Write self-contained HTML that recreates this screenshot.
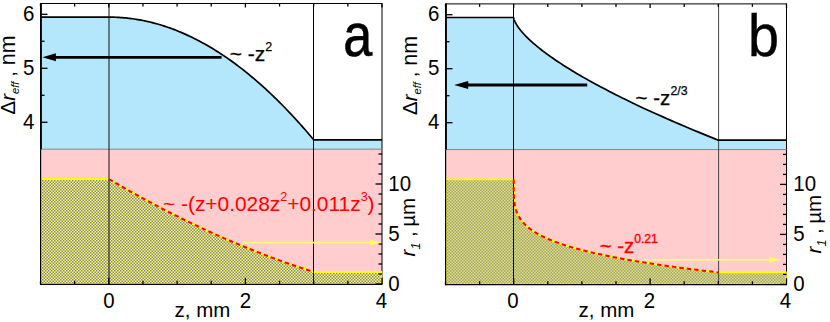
<!DOCTYPE html>
<html><head><meta charset="utf-8"><style>
html,body{margin:0;padding:0;background:#fff}
svg{display:block}
text{font-family:"Liberation Sans",sans-serif}
</style></head><body>
<svg width="830" height="322" viewBox="0 0 830 322">
<defs><pattern id="hatch" width="3" height="3" patternUnits="userSpaceOnUse">
<rect width="3" height="3" fill="#fcfc69"/><rect x="0" y="0" width="1.5" height="1.5" fill="#868688"/><rect x="1.5" y="1.5" width="1.5" height="1.5" fill="#868688"/>
</pattern></defs>
<rect width="830" height="322" fill="#fff"/>
<g transform="translate(0,0.00)"><rect x="40.50" y="149.20" width="341.50" height="135.10" fill="#ffcdcd"/>
<polygon points="40.50,17.11 108.80,17.11 110.51,17.12 112.22,17.14 113.92,17.18 115.63,17.24 117.34,17.32 119.04,17.41 120.75,17.53 122.46,17.65 124.17,17.80 125.88,17.96 127.58,18.14 129.29,18.33 131.00,18.55 132.70,18.78 134.41,19.02 136.12,19.29 137.83,19.57 139.53,19.87 141.24,20.18 142.95,20.52 144.66,20.87 146.37,21.23 148.07,21.62 149.78,22.02 151.49,22.43 153.19,22.87 154.90,23.32 156.61,23.79 158.32,24.27 160.02,24.78 161.73,25.30 163.44,25.83 165.15,26.39 166.86,26.96 168.56,27.54 170.27,28.15 171.98,28.77 173.69,29.41 175.39,30.07 177.10,30.74 178.81,31.43 180.51,32.14 182.22,32.86 183.93,33.60 185.64,34.36 187.34,35.14 189.05,35.93 190.76,36.74 192.47,37.56 194.17,38.41 195.88,39.27 197.59,40.15 199.30,41.04 201.00,41.95 202.71,42.88 204.42,43.83 206.13,44.79 207.84,45.77 209.54,46.77 211.25,47.78 212.96,48.81 214.66,49.86 216.37,50.92 218.08,52.01 219.79,53.10 221.49,54.22 223.20,55.35 224.91,56.50 226.62,57.67 228.32,58.86 230.03,60.06 231.74,61.28 233.45,62.51 235.16,63.76 236.86,65.03 238.57,66.32 240.28,67.62 241.99,68.94 243.69,70.28 245.40,71.64 247.11,73.01 248.81,74.40 250.52,75.80 252.23,77.23 253.94,78.66 255.64,80.12 257.35,81.60 259.06,83.09 260.77,84.59 262.48,86.12 264.18,87.66 265.89,89.22 267.60,90.80 269.31,92.39 271.01,94.00 272.72,95.63 274.43,97.27 276.13,98.93 277.84,100.61 279.55,102.31 281.26,104.02 282.96,105.75 284.67,107.50 286.38,109.26 288.09,111.04 289.79,112.84 291.50,114.65 293.21,116.49 294.92,118.33 296.62,120.20 298.33,122.08 300.04,123.98 301.75,125.90 303.45,127.83 305.16,129.78 306.87,131.75 308.58,133.74 310.29,135.74 311.99,137.76 313.70,139.80 382.00,139.80 382.00,149.20 40.50,149.20" fill="#b4e6fc"/>
<clipPath id="ca"><rect x="40.50" y="149.20" width="341.80" height="135.10"/></clipPath>
<line x1="382.00" y1="3.00" x2="382.00" y2="284.80" stroke="#000" stroke-width="1"/>
<polygon clip-path="url(#ca)" points="40.50,179.00 108.80,179.00 110.51,180.01 112.22,181.01 113.92,182.01 115.63,183.00 117.34,183.99 119.04,184.98 120.75,185.96 122.46,186.94 124.17,187.92 125.88,188.89 127.58,189.86 129.29,190.82 131.00,191.78 132.70,192.73 134.41,193.69 136.12,194.63 137.83,195.58 139.53,196.52 141.24,197.46 142.95,198.39 144.66,199.32 146.37,200.24 148.07,201.16 149.78,202.08 151.49,202.99 153.19,203.90 154.90,204.81 156.61,205.71 158.32,206.60 160.02,207.50 161.73,208.39 163.44,209.27 165.15,210.16 166.86,211.03 168.56,211.91 170.27,212.78 171.98,213.64 173.69,214.51 175.39,215.37 177.10,216.22 178.81,217.07 180.51,217.92 182.22,218.76 183.93,219.60 185.64,220.44 187.34,221.27 189.05,222.09 190.76,222.92 192.47,223.74 194.17,224.55 195.88,225.37 197.59,226.17 199.30,226.98 201.00,227.78 202.71,228.57 204.42,229.37 206.13,230.16 207.84,230.94 209.54,231.72 211.25,232.50 212.96,233.27 214.66,234.04 216.37,234.81 218.08,235.57 219.79,236.32 221.49,237.08 223.20,237.83 224.91,238.57 226.62,239.32 228.32,240.05 230.03,240.79 231.74,241.52 233.45,242.24 235.16,242.97 236.86,243.69 238.57,244.40 240.28,245.11 241.99,245.82 243.69,246.52 245.40,247.22 247.11,247.92 248.81,248.61 250.52,249.29 252.23,249.98 253.94,250.66 255.64,251.33 257.35,252.01 259.06,252.67 260.77,253.34 262.48,254.00 264.18,254.65 265.89,255.31 267.60,255.96 269.31,256.60 271.01,257.24 272.72,257.88 274.43,258.51 276.13,259.14 277.84,259.77 279.55,260.39 281.26,261.01 282.96,261.62 284.67,262.23 286.38,262.83 288.09,263.44 289.79,264.03 291.50,264.63 293.21,265.22 294.92,265.81 296.62,266.39 298.33,266.97 300.04,267.54 301.75,268.11 303.45,268.68 305.16,269.24 306.87,269.80 308.58,270.36 310.29,270.91 311.99,271.46 313.70,272.00 381.70,272.00 381.70,284.30 40.50,284.30" fill="url(#hatch)" stroke="#ffff00" stroke-width="1.9" stroke-linejoin="round"/>
<line x1="40.50" y1="149.20" x2="382.00" y2="149.20" stroke="#8a7f86" stroke-width="1"/>
<line x1="109.00" y1="3.50" x2="109.00" y2="284.30" stroke="#111" stroke-width="1"/>
<line x1="313.50" y1="3.50" x2="313.50" y2="284.30" stroke="#000" stroke-width="1"/>
<polyline points="108.80,179.00 110.51,180.01 112.22,181.01 113.92,182.01 115.63,183.00 117.34,183.99 119.04,184.98 120.75,185.96 122.46,186.94 124.17,187.92 125.88,188.89 127.58,189.86 129.29,190.82 131.00,191.78 132.70,192.73 134.41,193.69 136.12,194.63 137.83,195.58 139.53,196.52 141.24,197.46 142.95,198.39 144.66,199.32 146.37,200.24 148.07,201.16 149.78,202.08 151.49,202.99 153.19,203.90 154.90,204.81 156.61,205.71 158.32,206.60 160.02,207.50 161.73,208.39 163.44,209.27 165.15,210.16 166.86,211.03 168.56,211.91 170.27,212.78 171.98,213.64 173.69,214.51 175.39,215.37 177.10,216.22 178.81,217.07 180.51,217.92 182.22,218.76 183.93,219.60 185.64,220.44 187.34,221.27 189.05,222.09 190.76,222.92 192.47,223.74 194.17,224.55 195.88,225.37 197.59,226.17 199.30,226.98 201.00,227.78 202.71,228.57 204.42,229.37 206.13,230.16 207.84,230.94 209.54,231.72 211.25,232.50 212.96,233.27 214.66,234.04 216.37,234.81 218.08,235.57 219.79,236.32 221.49,237.08 223.20,237.83 224.91,238.57 226.62,239.32 228.32,240.05 230.03,240.79 231.74,241.52 233.45,242.24 235.16,242.97 236.86,243.69 238.57,244.40 240.28,245.11 241.99,245.82 243.69,246.52 245.40,247.22 247.11,247.92 248.81,248.61 250.52,249.29 252.23,249.98 253.94,250.66 255.64,251.33 257.35,252.01 259.06,252.67 260.77,253.34 262.48,254.00 264.18,254.65 265.89,255.31 267.60,255.96 269.31,256.60 271.01,257.24 272.72,257.88 274.43,258.51 276.13,259.14 277.84,259.77 279.55,260.39 281.26,261.01 282.96,261.62 284.67,262.23 286.38,262.83 288.09,263.44 289.79,264.03 291.50,264.63 293.21,265.22 294.92,265.81 296.62,266.39 298.33,266.97 300.04,267.54 301.75,268.11 303.45,268.68 305.16,269.24 306.87,269.80 308.58,270.36 310.29,270.91 311.99,271.46 313.70,272.00" fill="none" stroke="#ff0000" stroke-width="2" stroke-dasharray="4.5 3"/>
<polyline points="40.50,17.11 108.80,17.11 110.51,17.12 112.22,17.14 113.92,17.18 115.63,17.24 117.34,17.32 119.04,17.41 120.75,17.53 122.46,17.65 124.17,17.80 125.88,17.96 127.58,18.14 129.29,18.33 131.00,18.55 132.70,18.78 134.41,19.02 136.12,19.29 137.83,19.57 139.53,19.87 141.24,20.18 142.95,20.52 144.66,20.87 146.37,21.23 148.07,21.62 149.78,22.02 151.49,22.43 153.19,22.87 154.90,23.32 156.61,23.79 158.32,24.27 160.02,24.78 161.73,25.30 163.44,25.83 165.15,26.39 166.86,26.96 168.56,27.54 170.27,28.15 171.98,28.77 173.69,29.41 175.39,30.07 177.10,30.74 178.81,31.43 180.51,32.14 182.22,32.86 183.93,33.60 185.64,34.36 187.34,35.14 189.05,35.93 190.76,36.74 192.47,37.56 194.17,38.41 195.88,39.27 197.59,40.15 199.30,41.04 201.00,41.95 202.71,42.88 204.42,43.83 206.13,44.79 207.84,45.77 209.54,46.77 211.25,47.78 212.96,48.81 214.66,49.86 216.37,50.92 218.08,52.01 219.79,53.10 221.49,54.22 223.20,55.35 224.91,56.50 226.62,57.67 228.32,58.86 230.03,60.06 231.74,61.28 233.45,62.51 235.16,63.76 236.86,65.03 238.57,66.32 240.28,67.62 241.99,68.94 243.69,70.28 245.40,71.64 247.11,73.01 248.81,74.40 250.52,75.80 252.23,77.23 253.94,78.66 255.64,80.12 257.35,81.60 259.06,83.09 260.77,84.59 262.48,86.12 264.18,87.66 265.89,89.22 267.60,90.80 269.31,92.39 271.01,94.00 272.72,95.63 274.43,97.27 276.13,98.93 277.84,100.61 279.55,102.31 281.26,104.02 282.96,105.75 284.67,107.50 286.38,109.26 288.09,111.04 289.79,112.84 291.50,114.65 293.21,116.49 294.92,118.33 296.62,120.20 298.33,122.08 300.04,123.98 301.75,125.90 303.45,127.83 305.16,129.78 306.87,131.75 308.58,133.74 310.29,135.74 311.99,137.76 313.70,139.80 382.00,139.80" fill="none" stroke="#000" stroke-width="1.7" stroke-linejoin="round"/>
<line x1="40.50" y1="14.30" x2="47.50" y2="14.30" stroke="#000" stroke-width="1.3"/>
<line x1="40.50" y1="41.30" x2="44.50" y2="41.30" stroke="#000" stroke-width="1.3"/>
<line x1="40.50" y1="68.30" x2="47.50" y2="68.30" stroke="#000" stroke-width="1.3"/>
<line x1="40.50" y1="95.30" x2="44.50" y2="95.30" stroke="#000" stroke-width="1.3"/>
<line x1="40.50" y1="122.30" x2="47.50" y2="122.30" stroke="#000" stroke-width="1.3"/>
<line x1="375.50" y1="284.00" x2="382.00" y2="284.00" stroke="#000" stroke-width="1.3"/>
<line x1="378.50" y1="274.00" x2="382.00" y2="274.00" stroke="#000" stroke-width="1.3"/>
<line x1="378.50" y1="264.00" x2="382.00" y2="264.00" stroke="#000" stroke-width="1.3"/>
<line x1="378.50" y1="254.00" x2="382.00" y2="254.00" stroke="#000" stroke-width="1.3"/>
<line x1="378.50" y1="244.00" x2="382.00" y2="244.00" stroke="#000" stroke-width="1.3"/>
<line x1="375.50" y1="234.00" x2="382.00" y2="234.00" stroke="#000" stroke-width="1.3"/>
<line x1="378.50" y1="224.00" x2="382.00" y2="224.00" stroke="#000" stroke-width="1.3"/>
<line x1="378.50" y1="214.00" x2="382.00" y2="214.00" stroke="#000" stroke-width="1.3"/>
<line x1="378.50" y1="204.00" x2="382.00" y2="204.00" stroke="#000" stroke-width="1.3"/>
<line x1="378.50" y1="194.00" x2="382.00" y2="194.00" stroke="#000" stroke-width="1.3"/>
<line x1="375.50" y1="184.00" x2="382.00" y2="184.00" stroke="#000" stroke-width="1.3"/>
<line x1="378.50" y1="174.00" x2="382.00" y2="174.00" stroke="#000" stroke-width="1.3"/>
<line x1="378.50" y1="164.00" x2="382.00" y2="164.00" stroke="#000" stroke-width="1.3"/>
<line x1="378.50" y1="154.00" x2="382.00" y2="154.00" stroke="#000" stroke-width="1.3"/>
<line x1="40.50" y1="280.80" x2="40.50" y2="284.30" stroke="#000" stroke-width="1.3"/>
<line x1="40.50" y1="3.50" x2="40.50" y2="6.50" stroke="#000" stroke-width="1.3"/>
<line x1="74.65" y1="280.80" x2="74.65" y2="284.30" stroke="#000" stroke-width="1.3"/>
<line x1="74.65" y1="3.50" x2="74.65" y2="6.50" stroke="#000" stroke-width="1.3"/>
<line x1="108.80" y1="277.80" x2="108.80" y2="284.30" stroke="#000" stroke-width="1.3"/>
<line x1="108.80" y1="3.50" x2="108.80" y2="7.50" stroke="#000" stroke-width="1.3"/>
<line x1="142.95" y1="280.80" x2="142.95" y2="284.30" stroke="#000" stroke-width="1.3"/>
<line x1="142.95" y1="3.50" x2="142.95" y2="6.50" stroke="#000" stroke-width="1.3"/>
<line x1="177.10" y1="280.80" x2="177.10" y2="284.30" stroke="#000" stroke-width="1.3"/>
<line x1="177.10" y1="3.50" x2="177.10" y2="6.50" stroke="#000" stroke-width="1.3"/>
<line x1="211.25" y1="280.80" x2="211.25" y2="284.30" stroke="#000" stroke-width="1.3"/>
<line x1="211.25" y1="3.50" x2="211.25" y2="6.50" stroke="#000" stroke-width="1.3"/>
<line x1="245.40" y1="277.80" x2="245.40" y2="284.30" stroke="#000" stroke-width="1.3"/>
<line x1="245.40" y1="3.50" x2="245.40" y2="7.50" stroke="#000" stroke-width="1.3"/>
<line x1="279.55" y1="280.80" x2="279.55" y2="284.30" stroke="#000" stroke-width="1.3"/>
<line x1="279.55" y1="3.50" x2="279.55" y2="6.50" stroke="#000" stroke-width="1.3"/>
<line x1="313.70" y1="280.80" x2="313.70" y2="284.30" stroke="#000" stroke-width="1.3"/>
<line x1="313.70" y1="3.50" x2="313.70" y2="6.50" stroke="#000" stroke-width="1.3"/>
<line x1="347.85" y1="280.80" x2="347.85" y2="284.30" stroke="#000" stroke-width="1.3"/>
<line x1="347.85" y1="3.50" x2="347.85" y2="6.50" stroke="#000" stroke-width="1.3"/>
<line x1="382.00" y1="277.80" x2="382.00" y2="284.30" stroke="#000" stroke-width="1.3"/>
<line x1="382.00" y1="3.50" x2="382.00" y2="7.50" stroke="#000" stroke-width="1.3"/>
<line x1="40.50" y1="3.50" x2="382.00" y2="3.50" stroke="#000" stroke-width="1"/>
<line x1="40.50" y1="284.30" x2="382.00" y2="284.30" stroke="#000" stroke-width="1.2"/>
<rect x="40.00" y="3.00" width="1.9" height="146.20" fill="#000"/>
<rect x="40.00" y="149.20" width="1.2" height="135.70" fill="#000"/></g>
<g transform="translate(0,0.40)"><rect x="445.50" y="149.20" width="341.00" height="135.10" fill="#ffcdcd"/>
<polygon points="445.50,17.11 513.70,17.11 513.70,17.12 513.70,17.14 513.70,17.18 513.71,17.24 513.71,17.32 513.73,17.41 513.74,17.53 513.76,17.65 513.79,17.80 513.82,17.96 513.86,18.14 513.90,18.33 513.96,18.55 514.02,18.78 514.10,19.02 514.18,19.29 514.28,19.57 514.39,19.87 514.51,20.18 514.65,20.52 514.80,20.87 514.96,21.23 515.14,21.62 515.34,22.02 515.55,22.43 515.78,22.87 516.03,23.32 516.30,23.79 516.59,24.27 516.90,24.78 517.23,25.30 517.58,25.83 517.96,26.39 518.35,26.96 518.78,27.54 519.22,28.15 519.70,28.77 520.20,29.41 520.72,30.07 521.28,30.74 521.86,31.43 522.47,32.14 523.11,32.86 523.79,33.60 524.49,34.36 525.22,35.14 525.99,35.93 526.79,36.74 527.63,37.56 528.50,38.41 529.41,39.27 530.35,40.15 531.33,41.04 532.34,41.95 533.40,42.88 534.49,43.83 535.63,44.79 536.80,45.77 538.02,46.77 539.27,47.78 540.58,48.81 541.92,49.86 543.31,50.92 544.74,52.01 546.22,53.10 547.74,54.22 549.31,55.35 550.93,56.50 552.60,57.67 554.31,58.86 556.08,60.06 557.89,61.28 559.76,62.51 561.68,63.76 563.65,65.03 565.68,66.32 567.75,67.62 569.89,68.94 572.08,70.28 574.32,71.64 576.62,73.01 578.98,74.40 581.40,75.80 583.88,77.23 586.41,78.66 589.01,80.12 591.67,81.60 594.39,83.09 597.17,84.59 600.02,86.12 602.92,87.66 605.90,89.22 608.94,90.80 612.04,92.39 615.22,94.00 618.46,95.63 621.76,97.27 625.14,98.93 628.59,100.61 632.10,102.31 635.69,104.02 639.35,105.75 643.08,107.50 646.89,109.26 650.77,111.04 654.72,112.84 658.75,114.65 662.85,116.49 667.04,118.33 671.29,120.20 675.63,122.08 680.05,123.98 684.54,125.90 689.12,127.83 693.78,129.78 698.51,131.75 703.34,133.74 708.24,135.74 713.23,137.76 718.30,139.80 786.50,139.80 786.50,149.20 445.50,149.20" fill="#b4e6fc"/>
<clipPath id="cb"><rect x="445.50" y="149.20" width="341.30" height="135.10"/></clipPath>
<line x1="786.50" y1="3.00" x2="786.50" y2="284.80" stroke="#000" stroke-width="1"/>
<polygon clip-path="url(#cb)" points="445.50,179.00 513.70,179.00 513.70,181.57 513.70,183.31 513.70,184.85 513.71,186.26 513.71,187.58 513.73,188.83 513.74,190.04 513.76,191.20 513.79,192.33 513.82,193.42 513.86,194.49 513.90,195.54 513.96,196.56 514.02,197.56 514.10,198.55 514.18,199.52 514.28,200.48 514.39,201.42 514.51,202.34 514.65,203.26 514.80,204.16 514.96,205.06 515.14,205.94 515.34,206.81 515.55,207.68 515.78,208.53 516.03,209.38 516.30,210.22 516.59,211.05 516.90,211.88 517.23,212.70 517.58,213.51 517.96,214.32 518.35,215.12 518.78,215.91 519.22,216.70 519.70,217.48 520.20,218.26 520.72,219.03 521.28,219.80 521.86,220.56 522.47,221.32 523.11,222.07 523.79,222.82 524.49,223.57 525.22,224.31 525.99,225.04 526.79,225.78 527.63,226.51 528.50,227.23 529.41,227.95 530.35,228.67 531.33,229.39 532.34,230.10 533.40,230.80 534.49,231.51 535.63,232.21 536.80,232.91 538.02,233.61 539.27,234.30 540.58,234.99 541.92,235.67 543.31,236.36 544.74,237.04 546.22,237.72 547.74,238.40 549.31,239.07 550.93,239.74 552.60,240.41 554.31,241.08 556.08,241.74 557.89,242.40 559.76,243.06 561.68,243.72 563.65,244.37 565.68,245.02 567.75,245.68 569.89,246.32 572.08,246.97 574.32,247.61 576.62,248.26 578.98,248.90 581.40,249.54 583.88,250.17 586.41,250.81 589.01,251.44 591.67,252.07 594.39,252.70 597.17,253.33 600.02,253.95 602.92,254.57 605.90,255.20 608.94,255.82 612.04,256.44 615.22,257.05 618.46,257.67 621.76,258.28 625.14,258.89 628.59,259.51 632.10,260.11 635.69,260.72 639.35,261.33 643.08,261.93 646.89,262.54 650.77,263.14 654.72,263.74 658.75,264.34 662.85,264.93 667.04,265.53 671.29,266.12 675.63,266.72 680.05,267.31 684.54,267.90 689.12,268.49 693.78,269.08 698.51,269.67 703.34,270.25 708.24,270.84 713.23,271.42 718.30,272.00 786.20,272.00 786.20,284.30 445.50,284.30" fill="url(#hatch)" stroke="#ffff00" stroke-width="1.9" stroke-linejoin="round"/>
<line x1="445.50" y1="149.20" x2="786.50" y2="149.20" stroke="#8a7f86" stroke-width="1"/>
<line x1="513.50" y1="3.50" x2="513.50" y2="284.30" stroke="#000" stroke-width="1"/>
<line x1="718.60" y1="3.50" x2="718.60" y2="284.30" stroke="#444" stroke-width="1"/>
<polyline points="513.70,179.00 513.70,181.57 513.70,183.31 513.70,184.85 513.71,186.26 513.71,187.58 513.73,188.83 513.74,190.04 513.76,191.20 513.79,192.33 513.82,193.42 513.86,194.49 513.90,195.54 513.96,196.56 514.02,197.56 514.10,198.55 514.18,199.52 514.28,200.48 514.39,201.42 514.51,202.34 514.65,203.26 514.80,204.16 514.96,205.06 515.14,205.94 515.34,206.81 515.55,207.68 515.78,208.53 516.03,209.38 516.30,210.22 516.59,211.05 516.90,211.88 517.23,212.70 517.58,213.51 517.96,214.32 518.35,215.12 518.78,215.91 519.22,216.70 519.70,217.48 520.20,218.26 520.72,219.03 521.28,219.80 521.86,220.56 522.47,221.32 523.11,222.07 523.79,222.82 524.49,223.57 525.22,224.31 525.99,225.04 526.79,225.78 527.63,226.51 528.50,227.23 529.41,227.95 530.35,228.67 531.33,229.39 532.34,230.10 533.40,230.80 534.49,231.51 535.63,232.21 536.80,232.91 538.02,233.61 539.27,234.30 540.58,234.99 541.92,235.67 543.31,236.36 544.74,237.04 546.22,237.72 547.74,238.40 549.31,239.07 550.93,239.74 552.60,240.41 554.31,241.08 556.08,241.74 557.89,242.40 559.76,243.06 561.68,243.72 563.65,244.37 565.68,245.02 567.75,245.68 569.89,246.32 572.08,246.97 574.32,247.61 576.62,248.26 578.98,248.90 581.40,249.54 583.88,250.17 586.41,250.81 589.01,251.44 591.67,252.07 594.39,252.70 597.17,253.33 600.02,253.95 602.92,254.57 605.90,255.20 608.94,255.82 612.04,256.44 615.22,257.05 618.46,257.67 621.76,258.28 625.14,258.89 628.59,259.51 632.10,260.11 635.69,260.72 639.35,261.33 643.08,261.93 646.89,262.54 650.77,263.14 654.72,263.74 658.75,264.34 662.85,264.93 667.04,265.53 671.29,266.12 675.63,266.72 680.05,267.31 684.54,267.90 689.12,268.49 693.78,269.08 698.51,269.67 703.34,270.25 708.24,270.84 713.23,271.42 718.30,272.00" fill="none" stroke="#ff0000" stroke-width="2" stroke-dasharray="4.5 3"/>
<polyline points="445.50,17.11 513.70,17.11 513.70,17.12 513.70,17.14 513.70,17.18 513.71,17.24 513.71,17.32 513.73,17.41 513.74,17.53 513.76,17.65 513.79,17.80 513.82,17.96 513.86,18.14 513.90,18.33 513.96,18.55 514.02,18.78 514.10,19.02 514.18,19.29 514.28,19.57 514.39,19.87 514.51,20.18 514.65,20.52 514.80,20.87 514.96,21.23 515.14,21.62 515.34,22.02 515.55,22.43 515.78,22.87 516.03,23.32 516.30,23.79 516.59,24.27 516.90,24.78 517.23,25.30 517.58,25.83 517.96,26.39 518.35,26.96 518.78,27.54 519.22,28.15 519.70,28.77 520.20,29.41 520.72,30.07 521.28,30.74 521.86,31.43 522.47,32.14 523.11,32.86 523.79,33.60 524.49,34.36 525.22,35.14 525.99,35.93 526.79,36.74 527.63,37.56 528.50,38.41 529.41,39.27 530.35,40.15 531.33,41.04 532.34,41.95 533.40,42.88 534.49,43.83 535.63,44.79 536.80,45.77 538.02,46.77 539.27,47.78 540.58,48.81 541.92,49.86 543.31,50.92 544.74,52.01 546.22,53.10 547.74,54.22 549.31,55.35 550.93,56.50 552.60,57.67 554.31,58.86 556.08,60.06 557.89,61.28 559.76,62.51 561.68,63.76 563.65,65.03 565.68,66.32 567.75,67.62 569.89,68.94 572.08,70.28 574.32,71.64 576.62,73.01 578.98,74.40 581.40,75.80 583.88,77.23 586.41,78.66 589.01,80.12 591.67,81.60 594.39,83.09 597.17,84.59 600.02,86.12 602.92,87.66 605.90,89.22 608.94,90.80 612.04,92.39 615.22,94.00 618.46,95.63 621.76,97.27 625.14,98.93 628.59,100.61 632.10,102.31 635.69,104.02 639.35,105.75 643.08,107.50 646.89,109.26 650.77,111.04 654.72,112.84 658.75,114.65 662.85,116.49 667.04,118.33 671.29,120.20 675.63,122.08 680.05,123.98 684.54,125.90 689.12,127.83 693.78,129.78 698.51,131.75 703.34,133.74 708.24,135.74 713.23,137.76 718.30,139.80 786.50,139.80" fill="none" stroke="#000" stroke-width="1.7" stroke-linejoin="round"/>
<line x1="445.50" y1="14.30" x2="452.50" y2="14.30" stroke="#000" stroke-width="1.3"/>
<line x1="445.50" y1="41.30" x2="449.50" y2="41.30" stroke="#000" stroke-width="1.3"/>
<line x1="445.50" y1="68.30" x2="452.50" y2="68.30" stroke="#000" stroke-width="1.3"/>
<line x1="445.50" y1="95.30" x2="449.50" y2="95.30" stroke="#000" stroke-width="1.3"/>
<line x1="445.50" y1="122.30" x2="452.50" y2="122.30" stroke="#000" stroke-width="1.3"/>
<line x1="780.00" y1="284.00" x2="786.50" y2="284.00" stroke="#000" stroke-width="1.3"/>
<line x1="783.00" y1="274.00" x2="786.50" y2="274.00" stroke="#000" stroke-width="1.3"/>
<line x1="783.00" y1="264.00" x2="786.50" y2="264.00" stroke="#000" stroke-width="1.3"/>
<line x1="783.00" y1="254.00" x2="786.50" y2="254.00" stroke="#000" stroke-width="1.3"/>
<line x1="783.00" y1="244.00" x2="786.50" y2="244.00" stroke="#000" stroke-width="1.3"/>
<line x1="780.00" y1="234.00" x2="786.50" y2="234.00" stroke="#000" stroke-width="1.3"/>
<line x1="783.00" y1="224.00" x2="786.50" y2="224.00" stroke="#000" stroke-width="1.3"/>
<line x1="783.00" y1="214.00" x2="786.50" y2="214.00" stroke="#000" stroke-width="1.3"/>
<line x1="783.00" y1="204.00" x2="786.50" y2="204.00" stroke="#000" stroke-width="1.3"/>
<line x1="783.00" y1="194.00" x2="786.50" y2="194.00" stroke="#000" stroke-width="1.3"/>
<line x1="780.00" y1="184.00" x2="786.50" y2="184.00" stroke="#000" stroke-width="1.3"/>
<line x1="783.00" y1="174.00" x2="786.50" y2="174.00" stroke="#000" stroke-width="1.3"/>
<line x1="783.00" y1="164.00" x2="786.50" y2="164.00" stroke="#000" stroke-width="1.3"/>
<line x1="783.00" y1="154.00" x2="786.50" y2="154.00" stroke="#000" stroke-width="1.3"/>
<line x1="445.50" y1="280.80" x2="445.50" y2="284.30" stroke="#000" stroke-width="1.3"/>
<line x1="445.50" y1="3.50" x2="445.50" y2="6.50" stroke="#000" stroke-width="1.3"/>
<line x1="479.60" y1="280.80" x2="479.60" y2="284.30" stroke="#000" stroke-width="1.3"/>
<line x1="479.60" y1="3.50" x2="479.60" y2="6.50" stroke="#000" stroke-width="1.3"/>
<line x1="513.70" y1="277.80" x2="513.70" y2="284.30" stroke="#000" stroke-width="1.3"/>
<line x1="513.70" y1="3.50" x2="513.70" y2="7.50" stroke="#000" stroke-width="1.3"/>
<line x1="547.80" y1="280.80" x2="547.80" y2="284.30" stroke="#000" stroke-width="1.3"/>
<line x1="547.80" y1="3.50" x2="547.80" y2="6.50" stroke="#000" stroke-width="1.3"/>
<line x1="581.90" y1="280.80" x2="581.90" y2="284.30" stroke="#000" stroke-width="1.3"/>
<line x1="581.90" y1="3.50" x2="581.90" y2="6.50" stroke="#000" stroke-width="1.3"/>
<line x1="616.00" y1="280.80" x2="616.00" y2="284.30" stroke="#000" stroke-width="1.3"/>
<line x1="616.00" y1="3.50" x2="616.00" y2="6.50" stroke="#000" stroke-width="1.3"/>
<line x1="650.10" y1="277.80" x2="650.10" y2="284.30" stroke="#000" stroke-width="1.3"/>
<line x1="650.10" y1="3.50" x2="650.10" y2="7.50" stroke="#000" stroke-width="1.3"/>
<line x1="684.20" y1="280.80" x2="684.20" y2="284.30" stroke="#000" stroke-width="1.3"/>
<line x1="684.20" y1="3.50" x2="684.20" y2="6.50" stroke="#000" stroke-width="1.3"/>
<line x1="718.30" y1="280.80" x2="718.30" y2="284.30" stroke="#000" stroke-width="1.3"/>
<line x1="718.30" y1="3.50" x2="718.30" y2="6.50" stroke="#000" stroke-width="1.3"/>
<line x1="752.40" y1="280.80" x2="752.40" y2="284.30" stroke="#000" stroke-width="1.3"/>
<line x1="752.40" y1="3.50" x2="752.40" y2="6.50" stroke="#000" stroke-width="1.3"/>
<line x1="786.50" y1="277.80" x2="786.50" y2="284.30" stroke="#000" stroke-width="1.3"/>
<line x1="786.50" y1="3.50" x2="786.50" y2="7.50" stroke="#000" stroke-width="1.3"/>
<line x1="445.50" y1="3.50" x2="786.50" y2="3.50" stroke="#000" stroke-width="1"/>
<line x1="445.50" y1="284.30" x2="786.50" y2="284.30" stroke="#000" stroke-width="1.2"/>
<rect x="445.00" y="3.00" width="1.9" height="146.20" fill="#000"/>
<rect x="445.00" y="149.20" width="1.2" height="135.70" fill="#000"/></g>
<line x1="221.60" y1="57.30" x2="53.20" y2="57.30" stroke="#000" stroke-width="2.80"/><polygon points="42.40,57.30 55.90,53.30 55.90,61.30" fill="#000"/><line x1="587.20" y1="85.00" x2="465.40" y2="85.00" stroke="#000" stroke-width="2.80"/><polygon points="454.20,85.00 468.20,81.00 468.20,89.00" fill="#000"/><line x1="242.50" y1="242.60" x2="372.60" y2="242.60" stroke="#ffff64" stroke-width="1.60"/><polygon points="381.80,242.60 370.30,239.80 370.30,245.40" fill="#ffff64"/><line x1="644.50" y1="259.80" x2="771.80" y2="259.80" stroke="#ffff64" stroke-width="1.60"/><polygon points="781.00,259.80 769.50,257.00 769.50,262.60" fill="#ffff64"/>
<text transform="translate(34.40,20.50) scale(0.930,1)" font-size="22.00" text-anchor="end" fill="#000" >6</text>
<text transform="translate(34.40,74.50) scale(0.930,1)" font-size="22.00" text-anchor="end" fill="#000" >5</text>
<text transform="translate(34.40,128.50) scale(0.930,1)" font-size="22.00" text-anchor="end" fill="#000" >4</text>
<text transform="translate(388.30,190.90) scale(0.930,1)" font-size="22.00" text-anchor="start" fill="#000" >10</text>
<text transform="translate(388.30,240.90) scale(0.930,1)" font-size="22.00" text-anchor="start" fill="#000" >5</text>
<text transform="translate(388.30,290.90) scale(0.930,1)" font-size="22.00" text-anchor="start" fill="#000" >0</text>
<text transform="translate(109.00,307.60) scale(0.930,1)" font-size="22.00" text-anchor="middle" fill="#000" >0</text>
<text transform="translate(245.50,307.60) scale(0.930,1)" font-size="22.00" text-anchor="middle" fill="#000" >2</text>
<text transform="translate(381.50,307.60) scale(0.930,1)" font-size="22.00" text-anchor="middle" fill="#000" >4</text>
<text transform="translate(174.60,316.60) scale(1.000,1)" font-size="20.50" text-anchor="start" fill="#000" >z, mm</text>
<text transform="translate(15.30,114.50) rotate(-90)" font-size="20.5">&#916;<tspan font-style="italic">r</tspan><tspan font-style="italic" font-size="11.2" dy="4">eff</tspan><tspan dy="-4" dx="4.7">,</tspan><tspan font-size="21.5" dx="5.8">nm</tspan></text>
<text transform="translate(415.30,256.40) rotate(-90)" font-size="20.5"><tspan font-style="italic">r</tspan><tspan font-style="italic" font-size="12.5" dy="5">1</tspan><tspan dy="-5" dx="5.7">,</tspan><tspan dx="4.4">&#181;m</tspan></text>
<text transform="translate(439.40,20.50) scale(0.930,1)" font-size="22.00" text-anchor="end" fill="#000" >6</text>
<text transform="translate(439.40,74.50) scale(0.930,1)" font-size="22.00" text-anchor="end" fill="#000" >5</text>
<text transform="translate(439.40,128.50) scale(0.930,1)" font-size="22.00" text-anchor="end" fill="#000" >4</text>
<text transform="translate(793.30,190.90) scale(0.930,1)" font-size="22.00" text-anchor="start" fill="#000" >10</text>
<text transform="translate(793.30,240.90) scale(0.930,1)" font-size="22.00" text-anchor="start" fill="#000" >5</text>
<text transform="translate(793.30,290.90) scale(0.930,1)" font-size="22.00" text-anchor="start" fill="#000" >0</text>
<text transform="translate(513.00,307.60) scale(0.930,1)" font-size="22.00" text-anchor="middle" fill="#000" >0</text>
<text transform="translate(649.50,307.60) scale(0.930,1)" font-size="22.00" text-anchor="middle" fill="#000" >2</text>
<text transform="translate(785.50,307.60) scale(0.930,1)" font-size="22.00" text-anchor="middle" fill="#000" >4</text>
<text transform="translate(578.60,316.60) scale(1.000,1)" font-size="20.50" text-anchor="start" fill="#000" >z, mm</text>
<text transform="translate(417.00,115.00) rotate(-90)" font-size="20.5">&#916;<tspan font-style="italic">r</tspan><tspan font-style="italic" font-size="11.2" dy="4">eff</tspan><tspan dy="-4" dx="4.7">,</tspan><tspan font-size="21.5" dx="5.8">nm</tspan></text>
<text transform="translate(820.80,253.40) rotate(-90)" font-size="20.5"><tspan font-style="italic">r</tspan><tspan font-style="italic" font-size="12.5" dy="5">1</tspan><tspan dy="-5" dx="5.7">,</tspan><tspan dx="4.4">&#181;m</tspan></text>
<text transform="translate(343.30,56.00) scale(0.840,1)" font-size="62.00" text-anchor="start" fill="#000" stroke="#000" stroke-width="0.7">a</text>
<text transform="translate(747.90,55.90) scale(0.930,1)" font-size="60.00" text-anchor="start" fill="#000" stroke="#000" stroke-width="0.4">b</text>
<text x="229.7" y="60.7" font-size="21" stroke="#000" stroke-width="0.25">~ -z<tspan font-size="12.5" dy="-9.5">2</tspan></text>
<text x="635.5" y="104.8" font-size="20.6" stroke="#000" stroke-width="0.25">~ -z<tspan font-size="12.3" dy="-9.5">2/3</tspan></text>
<text x="163" y="211.2" font-size="20.9" fill="#ff0000" >~ -(z+0.028z<tspan font-size="12.5" dy="-10.3">2</tspan><tspan dy="10.3">+0.011z</tspan><tspan font-size="12.5" dy="-10.3">3</tspan><tspan dy="10.3">)</tspan></text>
<text x="599.8" y="252.6" font-size="20.3" fill="#ff0000" stroke="#f00" stroke-width="0.35">~ -z<tspan font-size="12.2" dy="-9.8">0.21</tspan></text>
</svg>
</body></html>
